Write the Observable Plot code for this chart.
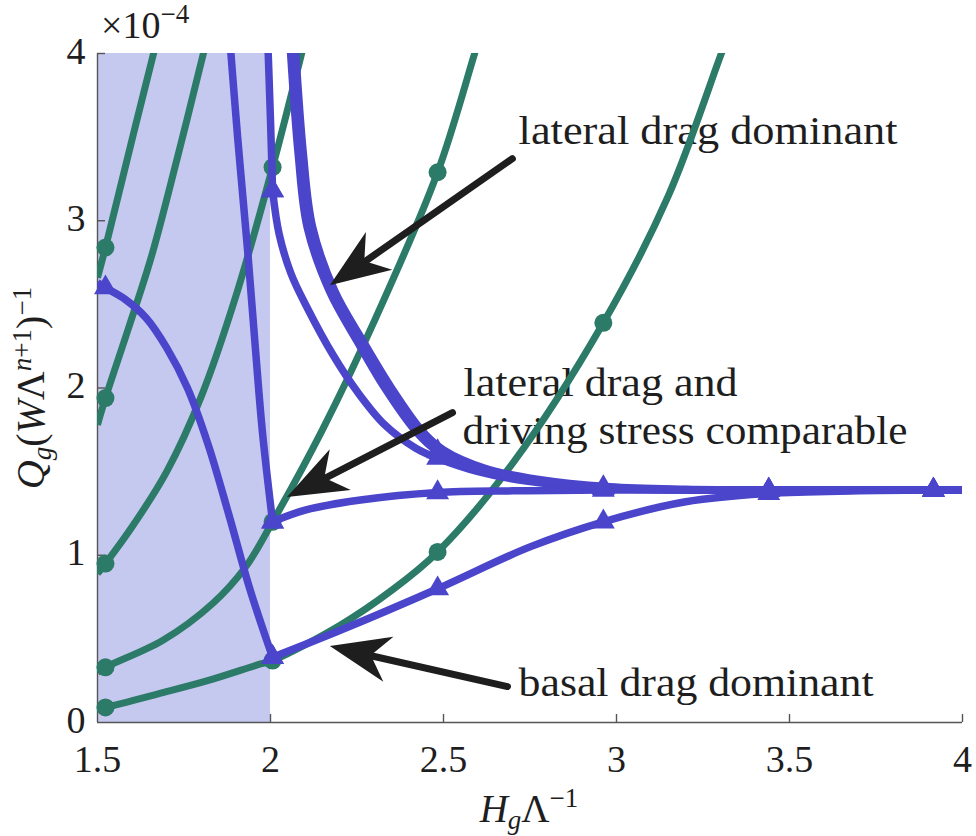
<!DOCTYPE html>
<html><head><meta charset="utf-8">
<script src="https://cdn.jsdelivr.net/npm/d3@7"></script>
<script src="https://cdn.jsdelivr.net/npm/@observablehq/plot@0.6"></script>
<style>body{margin:0;background:#fff} svg{display:block}</style>
</head><body><div id="chart"></div>
<script>
// ---- data ----
const xTicks = [1.5, 2, 2.5, 3, 3.5, 4];
const yTicks = [0, 1, 2, 3, 4];
const markerX = [1.523, 2.006, 2.483, 2.962, 3.44, 3.916];

// green curves (circle markers)
const greenA = [[1.5,2.66],[1.523,2.84],[1.604,3.52],[1.662,4.0],[1.69,4.22]];
const greenB = [[1.5,1.78],[1.523,1.94],[1.59,2.36],[1.655,2.78],[1.73,3.37],[1.806,4.0],[1.83,4.2]];
const greenC = [[1.5,0.89],[1.523,0.95],[1.6,1.17],[1.7,1.5],[1.8,1.95],[1.9,2.55],[2.006,3.32],[2.09,4.0],[2.11,4.17]];
const greenD = [[1.5,0.30],[1.523,0.33],[1.688,0.49],[1.832,0.71],[1.928,0.93],[2.006,1.20],[2.15,1.75],[2.3,2.4],[2.483,3.29],[2.59,4.0],[2.62,4.2]];
const greenE = [[1.5,0.08],[1.523,0.09],[1.673,0.17],[1.818,0.25],[1.971,0.35],[2.006,0.37],[2.2,0.58],[2.35,0.79],[2.483,1.02],[2.7,1.55],[2.962,2.39],[3.15,3.15],[3.303,4.0],[3.34,4.2]];

// blue curves (triangle markers), left and right branches
const blue1L = [[1.5,2.63],[1.523,2.60],[1.58,2.53],[1.64,2.42],[1.70,2.24],[1.76,2.0],[1.82,1.66],[1.88,1.24],[1.94,0.80],[2.006,0.39]];
const blue1R = [[2.006,0.39],[2.2,0.55],[2.483,0.80],[2.75,1.05],[2.962,1.20],[3.2,1.32],[3.44,1.37],[3.7,1.385],[3.916,1.39],[4.0,1.39]];
const blue2L = [[1.878,4.2],[1.905,3.5],[1.934,2.82],[1.957,2.22],[1.977,1.73],[2.006,1.20]];
const blue2R = [[2.006,1.20],[2.1,1.27],[2.26,1.33],[2.483,1.375],[2.7,1.385],[2.962,1.39],[3.44,1.39],[3.916,1.39],[4.0,1.39]];
const blue3L = [[1.990,4.2],[2.0,3.6],[2.006,3.18]];
const blue3R = [[2.006,3.18],[2.025,2.92],[2.06,2.68],[2.106,2.48],[2.18,2.2],[2.25,1.98],[2.33,1.78],[2.42,1.64],[2.483,1.58],[2.6,1.50],[2.75,1.44],[2.962,1.40],[3.2,1.39],[3.44,1.39],[3.916,1.39],[4.0,1.39]];
const blue4a = [[2.052,4.2],[2.08,3.4],[2.106,2.96],[2.17,2.58],[2.25,2.28],[2.33,2.0],[2.42,1.74],[2.483,1.62],[2.6,1.51],[2.75,1.45],[2.962,1.405],[3.2,1.39],[3.44,1.39],[3.916,1.39],[4.0,1.39]];
const blue4b = [[2.067,4.2],[2.095,3.4],[2.122,2.96],[2.186,2.58],[2.268,2.28],[2.35,2.0],[2.44,1.74],[2.5,1.63],[2.62,1.52],[2.77,1.455],[2.98,1.41],[3.2,1.395],[3.44,1.39],[3.916,1.39],[4.0,1.39]];

const shadeBox = [{x1: 1.5, x2: 2.0, y1: 0, y2: 4}];

const notes = [
  {text: "lateral drag dominant", x: 2.717, y: 3.461, len: 379},
  {text: "lateral drag and", x: 2.558, y: 1.955, len: 274},
  {text: "driving stress comparable", x: 2.555, y: 1.668, len: 445},
  {text: "basal drag dominant", x: 2.717, y: 0.161, len: 355}
];
const arrows = [
  {x1: 2.699, y1: 3.371, x2: 2.173, y2: 2.612},
  {x1: 2.526, y1: 1.853, x2: 2.049, y2: 1.345},
  {x1: 2.685, y1: 0.215, x2: 2.173, y2: 0.454}
];

// ---- styles ----
const GREEN = "#2c7a68", BLUE = "#4a45cb", SHADE = "#c5c8ef", INK = "#1e1e1e", AX = "#555";
const FONT = "'Liberation Serif', 'DejaVu Serif', 'Times New Roman', serif";

const greens = [greenA, greenB, greenC, greenD, greenE];
const blues = [blue1L, blue1R, blue2L, blue2R, blue3L, blue3R, blue4a];
const isMarker = p => markerX.includes(p[0]) && p[1] <= 4;
const greenMarks = greens.flat().filter(isMarker);
const blueMarks = blues.flat().filter(isMarker);

const lineOpts = (c, w) => ({x: d => d[0], y: d => d[1], stroke: c, strokeWidth: w, curve: "catmull-rom", clip: true, strokeLinecap: "butt"});

const plot = Plot.plot({
  width: 976, height: 836,
  marginLeft: 97, marginRight: 14, marginTop: 53, marginBottom: 114,
  x: {domain: [1.5, 4], axis: null},
  y: {domain: [0, 4], axis: null},
  style: {background: "#fff", fontFamily: FONT, color: INK},
  marks: [
    Plot.rect(shadeBox, {x1: "x1", x2: "x2", y1: "y1", y2: "y2", fill: SHADE}),
    Plot.ruleX([1.5], {stroke: AX, strokeWidth: 1.4}),
    Plot.ruleY([0], {stroke: AX, strokeWidth: 1.4}),
    Plot.tickX(xTicks.slice(1), {x: d => d, insetTop: 661, stroke: AX, strokeWidth: 1.4}),
    Plot.tickY(yTicks.slice(1), {y: d => d, insetRight: 857, stroke: AX, strokeWidth: 1.4}),
    Plot.text(xTicks, {x: d => d, y: 0, dy: 37, text: d => String(d), fontSize: 38, fontFamily: FONT, lineAnchor: "middle", fill: INK}),
    Plot.text(yTicks, {x: 1.5, y: d => d, dx: -12, dy: -2, text: d => String(d), fontSize: 38, fontFamily: FONT, textAnchor: "end", lineAnchor: "middle", fill: INK}),
    Plot.text(notes, {x: "x", y: "y", text: "text", fontSize: 40, fontFamily: FONT, textAnchor: "start", lineAnchor: "bottom", fill: INK}),
    ...greens.map(g => Plot.line(g, lineOpts(GREEN, 7))),
    Plot.dot(greenMarks, {x: d => d[0], y: d => d[1], r: 9, fill: GREEN, symbol: "circle"}),
    ...blues.map(b => Plot.line(b, lineOpts(BLUE, 7.5))),
    Plot.line(blue4b, lineOpts(BLUE, 7.5)),
    Plot.dot(blueMarks, {x: d => d[0], y: d => d[1], r: 8.5, fill: BLUE, symbol: "triangle"}),
    Plot.arrow(arrows, {x1: "x1", y1: "y1", x2: "x2", y2: "y2", stroke: INK, strokeWidth: 7, headLength: 0, insetEnd: 36})
  ]
});

const svg = d3.select(plot);
// stretch annotation texts to the reference widths
const lens = new Map(notes.map(n => [n.text, n.len]));
svg.selectAll("text").each(function() {
  const t = this.textContent;
  if (lens.has(t)) d3.select(this).attr("textLength", lens.get(t)).attr("lengthAdjust", "spacingAndGlyphs");
});

// filled arrowheads
const sx = plot.scale("x"), sy = plot.scale("y");
arrows.forEach(a => {
  const tx = sx.apply(a.x2), ty = sy.apply(a.y2), fx = sx.apply(a.x1), fy = sy.apply(a.y1);
  const dx = fx - tx, dy = fy - ty, l = Math.hypot(dx, dy);
  const ux = dx / l, uy = dy / l, nx = -uy, ny = ux;
  const L = 60, W = 23, N = 42;
  const pts = [[tx, ty], [tx + L*ux + W*nx, ty + L*uy + W*ny], [tx + N*ux, ty + N*uy], [tx + L*ux - W*nx, ty + L*uy - W*ny]];
  svg.append("path").attr("d", "M" + pts.map(p => p.join(",")).join("L") + "Z").attr("fill", INK);
});

// axis labels with sub/superscripts
const lab = svg.append("g").attr("font-family", FONT).attr("fill", INK);
const yl = lab.append("text").attr("transform", "translate(44,388) rotate(-90)")
  .attr("text-anchor", "middle").attr("font-size", 40);
yl.append("tspan").attr("font-style", "italic").text("Q");
yl.append("tspan").attr("font-style", "italic").attr("font-size", 27).attr("dy", 7).text("g");
yl.append("tspan").attr("dy", -7).text("(");
yl.append("tspan").attr("font-style", "italic").text("W");
yl.append("tspan").text("Λ");
yl.append("tspan").attr("font-style", "italic").attr("font-size", 27).attr("dy", -13).text("n");
yl.append("tspan").attr("font-size", 27).text("+1");
yl.append("tspan").attr("dy", 13).text(")");
yl.append("tspan").attr("font-size", 27).attr("dy", -13).text("−1");

const xl = lab.append("text").attr("x", 529).attr("y", 822).attr("text-anchor", "middle").attr("font-size", 39);
xl.append("tspan").attr("font-style", "italic").text("H");
xl.append("tspan").attr("font-style", "italic").attr("font-size", 27).attr("dy", 7).text("g");
xl.append("tspan").attr("dy", -7).text("Λ");
xl.append("tspan").attr("font-size", 27).attr("dy", -15).text("−1");

const ex = lab.append("text").attr("x", 101).attr("y", 38).attr("text-anchor", "start").attr("font-size", 38);
ex.append("tspan").text("×10");
ex.append("tspan").attr("font-size", 27).attr("dy", -15).text("−4");

document.getElementById("chart").appendChild(plot);
</script>
</body></html>
